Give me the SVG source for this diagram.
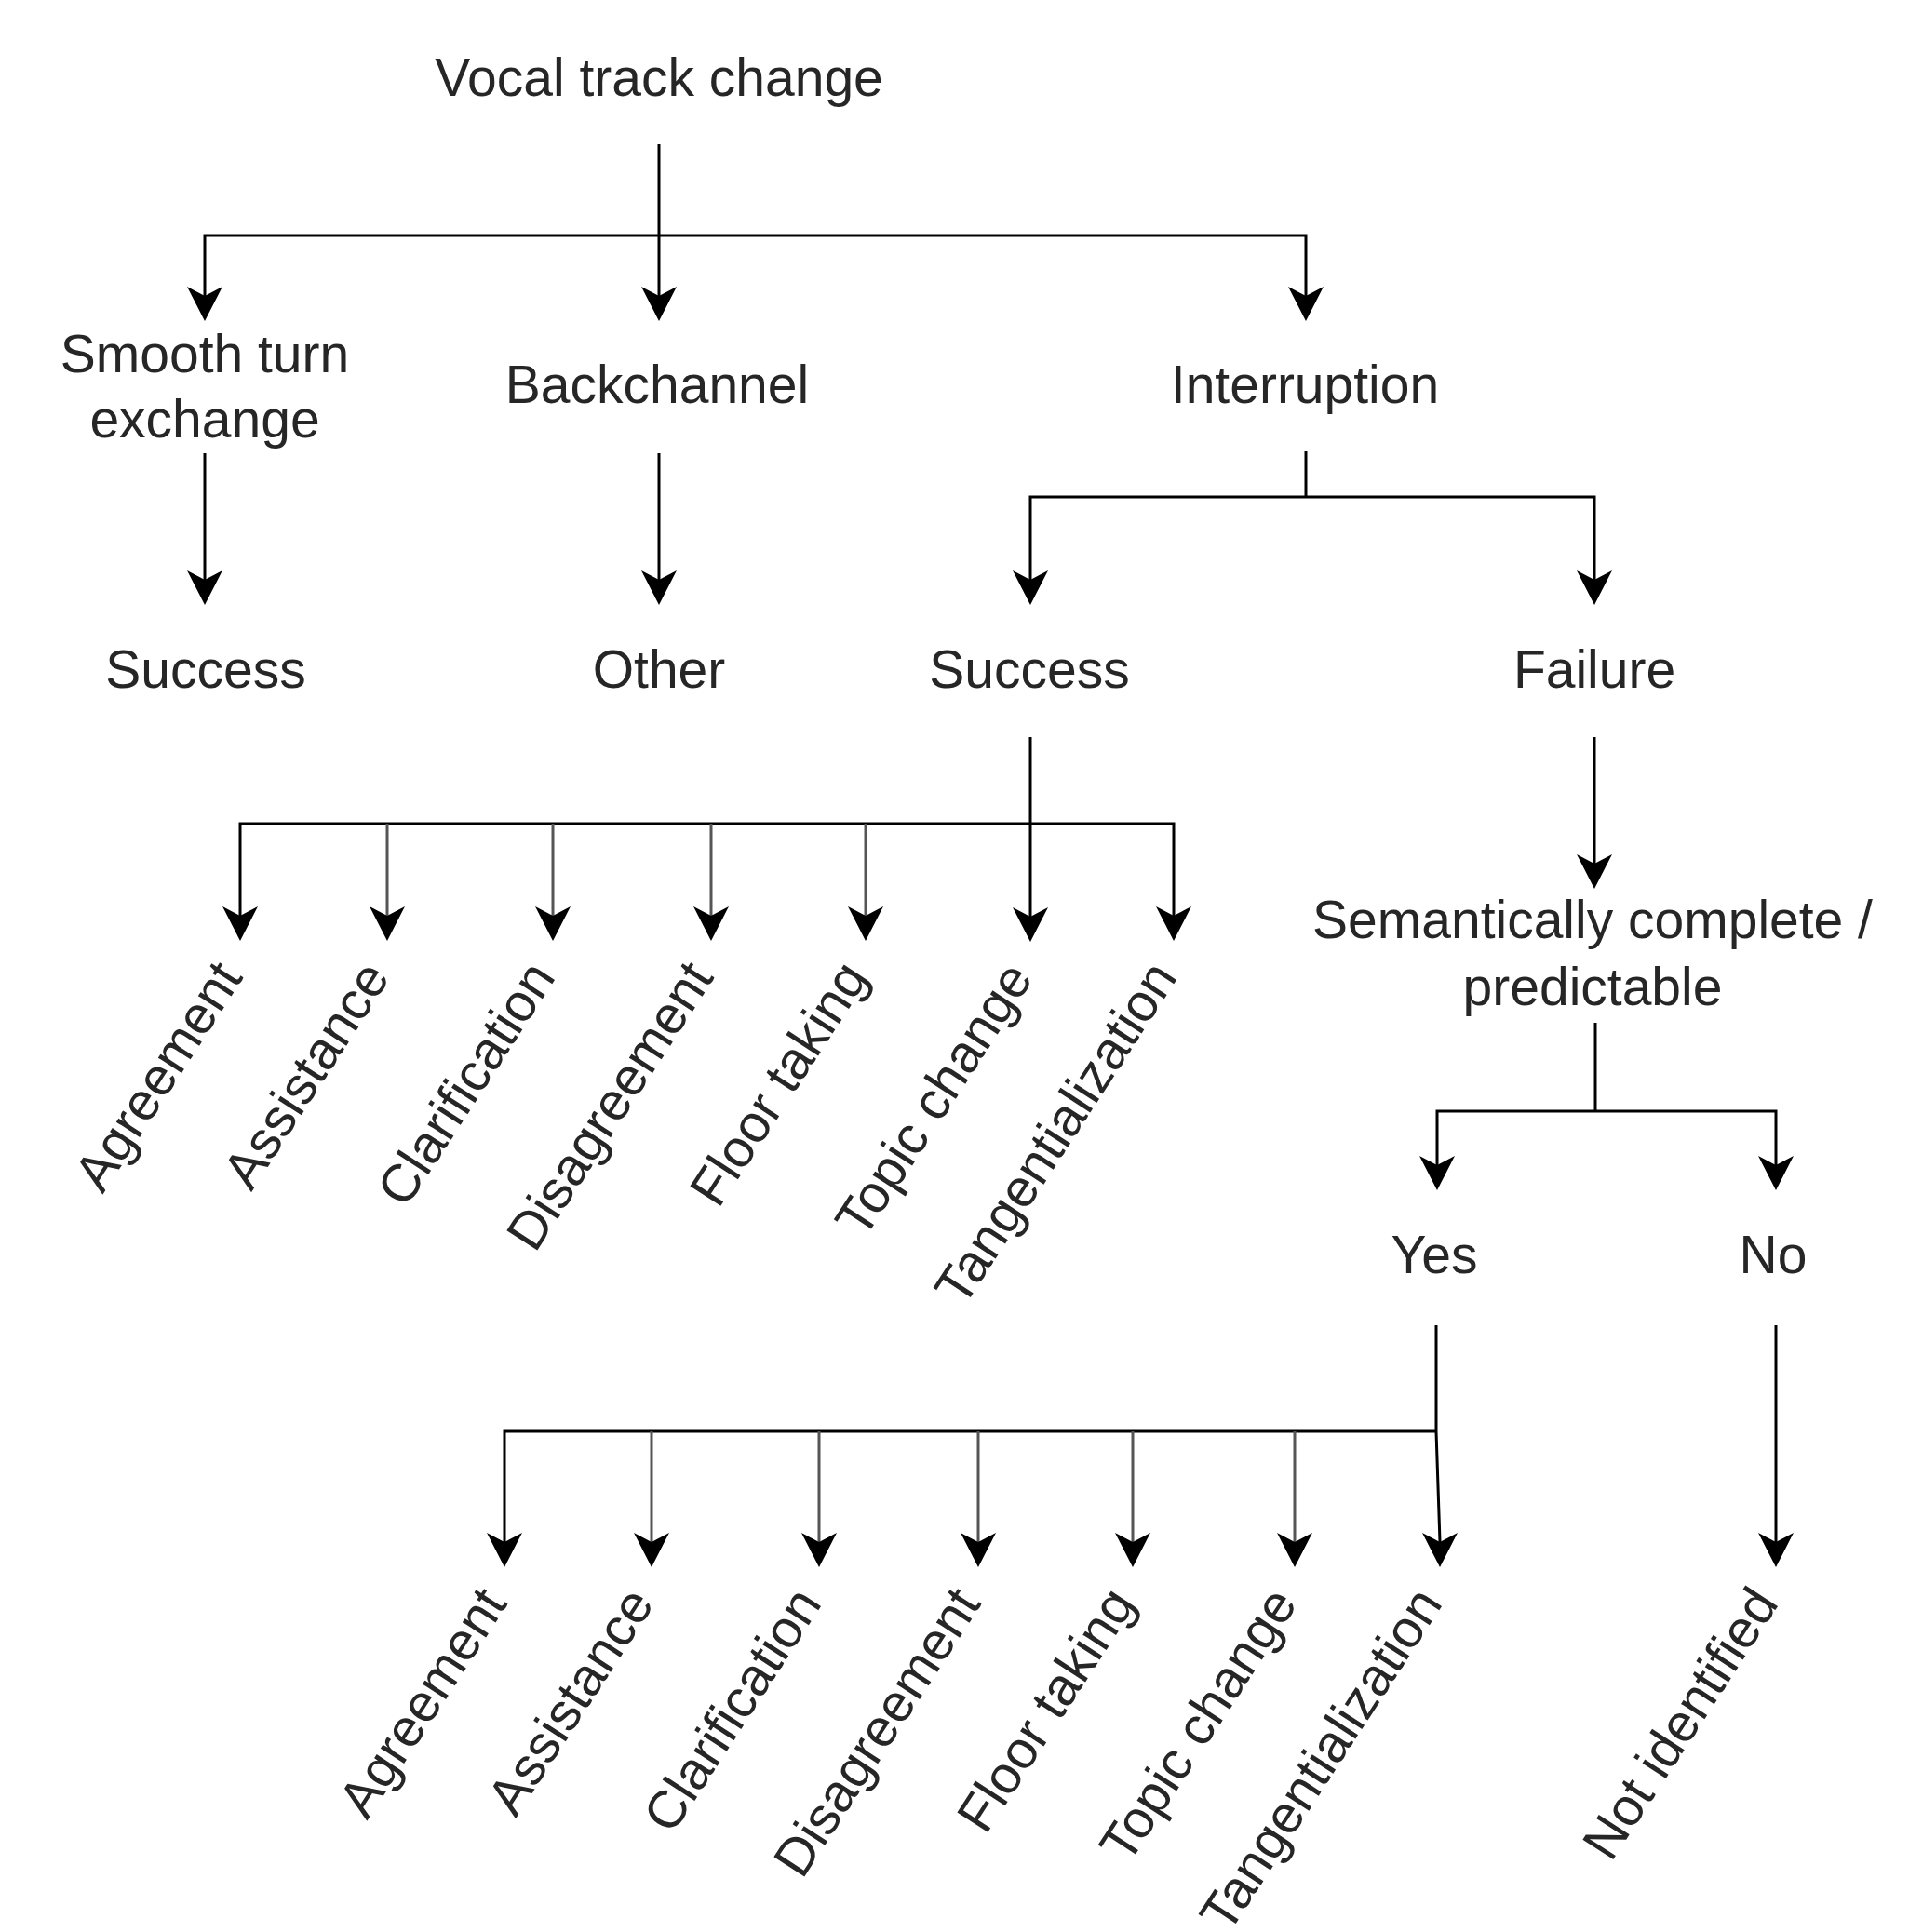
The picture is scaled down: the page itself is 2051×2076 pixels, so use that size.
<svg xmlns="http://www.w3.org/2000/svg" xmlns:xlink="http://www.w3.org/1999/xlink" width="2051" height="2076" viewBox="0 0 2051 2076">
<style>
  text { font-family: "Liberation Sans", Arial, sans-serif; font-size: 57px; fill: #262626; }
  .c { text-anchor: middle; }
  .r { text-anchor: end; }
  .ln { stroke: #000; stroke-width: 3; fill: none; }
  .lg { stroke: #555; stroke-width: 3; fill: none; }
  .ah { fill: #000; }
</style>
<defs>
  <path id="ah" d="M0,0 L-19,-37 L0,-27 L19,-37 Z"/>
</defs>
<rect width="2051" height="2076" fill="#fff"/>

<g id="connectors">
  <path class="ln" d="M708,155 V320"/>
  <path class="ln" d="M220,318 V253 H1403 V318"/>
  <path class="ln" d="M220,487 V623"/>
  <path class="ln" d="M708,487 V623"/>
  <path class="ln" d="M1403,485 V534"/>
  <path class="ln" d="M1107,623 V534 H1713 V623"/>
  <path class="ln" d="M1107,792 V985"/>
  <path class="ln" d="M258,984 V885 H1261 V984"/>
  <path class="lg" d="M416,885 V984"/>
  <path class="lg" d="M594,885 V984"/>
  <path class="lg" d="M764,885 V984"/>
  <path class="lg" d="M930,885 V984"/>
  <path class="ln" d="M1713,792 V928"/>
  <path class="ln" d="M1714,1099 V1194"/>
  <path class="ln" d="M1544,1252 V1194 H1908 V1252"/>
  <path class="ln" d="M1543,1424 V1538 L1547,1657"/>
  <path class="ln" d="M542,1657 V1538 H1543"/>
  <path class="lg" d="M700,1538 V1657"/>
  <path class="lg" d="M880,1538 V1657"/>
  <path class="lg" d="M1051,1538 V1657"/>
  <path class="lg" d="M1217,1538 V1657"/>
  <path class="lg" d="M1391,1538 V1657"/>
  <path class="ln" d="M1908,1424 V1657"/>

  <g class="ah">
    <use xlink:href="#ah" x="708" y="345"/>
    <use xlink:href="#ah" x="220" y="345"/>
    <use xlink:href="#ah" x="1403" y="345"/>
    <use xlink:href="#ah" x="220" y="650"/>
    <use xlink:href="#ah" x="708" y="650"/>
    <use xlink:href="#ah" x="1107" y="650"/>
    <use xlink:href="#ah" x="1713" y="650"/>
    <use xlink:href="#ah" x="258" y="1011"/>
    <use xlink:href="#ah" x="416" y="1011"/>
    <use xlink:href="#ah" x="594" y="1011"/>
    <use xlink:href="#ah" x="764" y="1011"/>
    <use xlink:href="#ah" x="930" y="1011"/>
    <use xlink:href="#ah" x="1107" y="1012"/>
    <use xlink:href="#ah" x="1261" y="1011"/>
    <use xlink:href="#ah" x="1713" y="955"/>
    <use xlink:href="#ah" x="1544" y="1279"/>
    <use xlink:href="#ah" x="1908" y="1279"/>
    <use xlink:href="#ah" x="542" y="1684"/>
    <use xlink:href="#ah" x="700" y="1684"/>
    <use xlink:href="#ah" x="880" y="1684"/>
    <use xlink:href="#ah" x="1051" y="1684"/>
    <use xlink:href="#ah" x="1217" y="1684"/>
    <use xlink:href="#ah" x="1391" y="1684"/>
    <use xlink:href="#ah" x="1547" y="1684"/>
    <use xlink:href="#ah" x="1908" y="1684"/>
  </g>
</g>

<g id="n-vocal"><text class="c" x="708" y="103">Vocal track change</text></g>
<g id="n-smooth"><text class="c" x="220" y="400">Smooth turn</text><text class="c" x="220" y="470">exchange</text></g>
<g id="n-backchannel"><text class="c" x="706" y="433">Backchannel</text></g>
<g id="n-interruption"><text class="c" x="1402" y="433">Interruption</text></g>
<g id="n-success1"><text class="c" x="221" y="739">Success</text></g>
<g id="n-other"><text class="c" x="708" y="739">Other</text></g>
<g id="n-success2"><text class="c" x="1106" y="739">Success</text></g>
<g id="n-failure"><text class="c" x="1713" y="739">Failure</text></g>
<g id="n-semantic"><text class="c" x="1711" y="1008">Semantically complete /</text><text class="c" x="1711" y="1080">predictable</text></g>
<g id="n-yes"><text class="c" x="1541" y="1368">Yes</text></g>
<g id="n-no"><text class="c" x="1905" y="1368">No</text></g>

<g id="n-s-agreement"><text class="r" transform="translate(262,1050) rotate(-57)">Agreement</text></g>
<g id="n-s-assistance"><text class="r" transform="translate(420,1050) rotate(-57)">Assistance</text></g>
<g id="n-s-clarification"><text class="r" transform="translate(598,1050) rotate(-57)">Clarification</text></g>
<g id="n-s-disagreement"><text class="r" transform="translate(768,1050) rotate(-57)">Disagreement</text></g>
<g id="n-s-floor"><text class="r" transform="translate(934,1050) rotate(-57)">Floor taking</text></g>
<g id="n-s-topic"><text class="r" transform="translate(1111,1051) rotate(-57)">Topic change</text></g>
<g id="n-s-tang"><text class="r" transform="translate(1266,1050) rotate(-57)">Tangentialization</text></g>

<g id="n-y-agreement"><text class="r" transform="translate(546,1723) rotate(-57)">Agreement</text></g>
<g id="n-y-assistance"><text class="r" transform="translate(704,1723) rotate(-57)">Assistance</text></g>
<g id="n-y-clarification"><text class="r" transform="translate(884,1723) rotate(-57)">Clarification</text></g>
<g id="n-y-disagreement"><text class="r" transform="translate(1055,1723) rotate(-57)">Disagreement</text></g>
<g id="n-y-floor"><text class="r" transform="translate(1221,1723) rotate(-57)">Floor taking</text></g>
<g id="n-y-topic"><text class="r" transform="translate(1395,1723) rotate(-57)">Topic change</text></g>
<g id="n-y-tang"><text class="r" transform="translate(1551,1723) rotate(-57)">Tangentialization</text></g>
<g id="n-notid"><text class="r" transform="translate(1912,1723) rotate(-57)">Not identified</text></g>
</svg>
